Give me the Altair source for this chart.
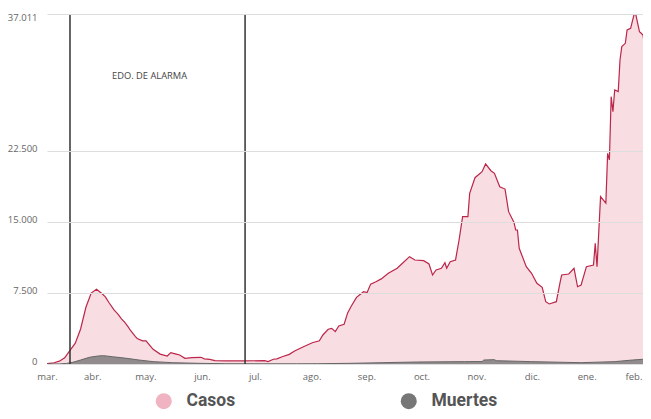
import altair as alt
import pandas as pd

# --- data -------------------------------------------------------------------
casos_fechas = [
    "2020-03-01", "2020-03-05", "2020-03-08", "2020-03-11", "2020-03-14", "2020-03-17",
    "2020-03-20", "2020-03-23", "2020-03-26", "2020-03-29", "2020-04-01", "2020-04-03",
    "2020-04-05", "2020-04-08", "2020-04-10", "2020-04-12", "2020-04-14", "2020-04-16",
    "2020-04-17", "2020-04-20", "2020-04-21", "2020-04-24", "2020-04-26", "2020-04-30",
    "2020-05-04", "2020-05-08", "2020-05-10", "2020-05-13", "2020-05-15", "2020-05-18",
    "2020-05-22", "2020-05-27", "2020-05-29", "2020-06-01", "2020-06-04", "2020-06-10",
    "2020-06-20", "2020-07-02", "2020-07-04", "2020-07-07", "2020-07-09", "2020-07-12",
    "2020-07-16", "2020-07-19", "2020-07-24", "2020-07-29", "2020-08-02", "2020-08-04",
    "2020-08-07", "2020-08-09", "2020-08-11", "2020-08-13", "2020-08-16", "2020-08-18",
    "2020-08-20", "2020-08-23", "2020-08-27", "2020-08-29", "2020-08-31", "2020-09-03",
    "2020-09-06", "2020-09-10", "2020-09-15", "2020-09-18", "2020-09-22", "2020-09-25",
    "2020-09-30", "2020-10-03", "2020-10-05", "2020-10-07", "2020-10-10", "2020-10-12",
    "2020-10-13", "2020-10-15", "2020-10-18", "2020-10-20", "2020-10-22", "2020-10-25",
    "2020-10-26", "2020-10-29", "2020-11-02", "2020-11-04", "2020-11-07", "2020-11-09",
    "2020-11-12", "2020-11-15", "2020-11-17", "2020-11-20", "2020-11-21", "2020-11-22",
    "2020-11-23", "2020-11-27", "2020-11-30", "2020-12-03", "2020-12-06", "2020-12-08",
    "2020-12-10", "2020-12-14", "2020-12-16", "2020-12-17", "2020-12-21", "2020-12-24",
    "2020-12-26", "2020-12-28", "2020-12-31", "2021-01-04", "2021-01-05", "2021-01-06",
    "2021-01-08", "2021-01-11", "2021-01-12", "2021-01-13", "2021-01-14", "2021-01-15",
    "2021-01-16", "2021-01-18", "2021-01-19", "2021-01-20", "2021-01-22", "2021-01-23",
    "2021-01-25", "2021-01-27", "2021-01-28", "2021-01-30", "2021-01-31", "2021-02-01",
    "2021-02-02", "2021-02-03",
]
casos_valores = [
    30, 130, 300, 650, 1450, 2200,
    3700, 6000, 7500, 7900, 7450, 7100,
    6500, 5700, 5300, 4800, 4400, 3900,
    3600, 2900, 2700, 2450, 2450, 1550,
    1050, 850, 1200, 1050, 950, 600,
    670, 710, 550, 480, 350, 320,
    330, 350, 250, 500, 540, 770,
    1020, 1370, 1830, 2250, 2460, 3070,
    3670, 3770, 3420, 4020, 4200, 5400,
    6100, 7050, 7650, 7550, 8450, 8700,
    9000, 9590, 10120, 10650, 11350, 11000,
    10930, 10580, 9410, 9940, 10120, 10710,
    10120, 10820, 11000, 13110, 15580, 15580,
    18050, 19700, 20340, 21150, 20440, 20170,
    18750, 18500, 16110, 15000, 14170, 14170,
    12240, 10290, 9590, 8530, 8110, 6590,
    6350, 6590, 8530, 9410, 9520, 10120,
    8170, 8350, 10290, 10470, 12760, 10290,
    17690, 17000, 22280, 21580, 28270, 26690,
    28980, 28800, 32150, 33560, 33910, 35320,
    35500, 37011, 36900, 35140, 34970, 34790,
    33500, 29000,
]

muertes_fechas = [
    "2020-03-01", "2020-03-08", "2020-03-12", "2020-03-16", "2020-03-20", "2020-03-25",
    "2020-03-30", "2020-04-02", "2020-04-07", "2020-04-15", "2020-04-22", "2020-04-30",
    "2020-05-11", "2020-05-26", "2020-06-10", "2020-07-01", "2020-07-20", "2020-08-01",
    "2020-08-19", "2020-09-07", "2020-09-26", "2020-10-23", "2020-11-02", "2020-11-03",
    "2020-11-09", "2020-11-10", "2020-11-30", "2020-12-28", "2021-01-16", "2021-01-26",
    "2021-02-01", "2021-02-03",
]
muertes_valores = [
    0, 10, 60, 200, 420, 710,
    850, 880, 770, 600, 420, 250,
    140, 70, 30, 20, 20, 30,
    70, 140, 210, 250, 260, 420,
    460, 350, 250, 140, 250, 420,
    500, 500,
]

alarma_fechas = ["2020-03-14", "2020-06-21"]
anotacion_texto = ["EDO. DE ALARMA"]
anotacion_fecha = ["2020-04-28"]
anotacion_valor = [30450]

y_ticks = [0, 7500, 15000, 22500, 37011]
meses = ["ene.", "feb.", "mar.", "abr.", "may.", "jun.", "jul.", "ago.",
         "sep.", "oct.", "nov.", "dic."]
series = ["Casos", "Muertes"]
colores = ["#f0b3c1", "#777777"]

# --- tables -----------------------------------------------------------------
casos_df = pd.DataFrame({"fecha": pd.to_datetime(casos_fechas),
                         "valor": casos_valores, "serie": series[0]})
muertes_df = pd.DataFrame({"fecha": pd.to_datetime(muertes_fechas),
                           "valor": muertes_valores, "serie": series[1]})
alarma_df = pd.DataFrame({"fecha": pd.to_datetime(alarma_fechas)})
anot_df = pd.DataFrame({"fecha": pd.to_datetime(anotacion_fecha),
                        "valor": anotacion_valor, "texto": anotacion_texto})

x_scale = alt.Scale(domain=[alt.DateTime(year=2020, month=3, date=1),
                            alt.DateTime(year=2021, month=2, date=1)])
y_scale = alt.Scale(domain=[0, 37011], nice=False)

meses_js = "[" + ",".join(f"'{m}'" for m in meses) + "]"

x_axis = alt.Axis(
    title=None, grid=False, ticks=False, domain=False,
    tickCount=alt.TimeIntervalStep(interval="month", step=1),
    labelExpr=f"{meses_js}[month(datum.value)]",
    labelFont="Open Sans", labelFontSize=9.5, labelColor="#666666",
    labelPadding=7, labelFlush=False, labelOverlap=False, labelBound=False,
    labelOffset={
        "condition": [
            {"test": "year(datum.value) == 2020 && month(datum.value) == 2", "value": 0},
            {"test": "month(datum.value) == 3 || month(datum.value) == 4", "value": -9.5},
            {"test": "month(datum.value) == 5 || month(datum.value) == 6", "value": -7.8},
            {"test": "month(datum.value) == 7 || month(datum.value) == 8", "value": -6},
            {"test": "month(datum.value) == 9 || month(datum.value) == 10", "value": -4},
            {"test": "month(datum.value) == 1", "value": -9.5},
        ],
        "value": -1.5,
    },
)
y_axis = alt.Axis(
    title=None, values=y_ticks, ticks=False, domain=False,
    labelExpr="replace(format(datum.value, ','), ',', '.')",
    labelFont="Open Sans", labelFontSize=9.5, labelColor="#666666",
    labelPadding=10, labelBaseline="middle",
    labelOffset={"condition": {"test": "datum.value == 37011", "value": 3}, "value": -3},
    gridColor="#dddddd", gridWidth=1.2, zindex=1,
)

color = alt.Color(
    "serie:N",
    scale=alt.Scale(domain=series, range=colores),
    legend=alt.Legend(
        title=None, orient="none", legendX=108, legendY=378, direction="horizontal",
        symbolType="circle", symbolSize=256, symbolOpacity=1, symbolStrokeWidth=0,
        labelFont="Roboto", labelFontSize=17.5, labelFontWeight="bold",
        labelColor="#555555", labelOffset=14, columnPadding=164, padding=0,
    ),
)

x_enc = alt.X("fecha:T", scale=x_scale, axis=x_axis)
y_enc = alt.Y("valor:Q", scale=y_scale, axis=y_axis)

casos_area = alt.Chart(casos_df).mark_area(fillOpacity=0.45, clip=True).encode(
    x=x_enc, y=y_enc, color=color)
casos_line = alt.Chart(casos_df).mark_line(color="#bb2649", strokeWidth=1.2, clip=True).encode(
    x="fecha:T", y="valor:Q")
muertes_area = alt.Chart(muertes_df).mark_area(fillOpacity=0.8, clip=True).encode(
    x="fecha:T", y="valor:Q", color=color)
muertes_line = alt.Chart(muertes_df).mark_line(color="#666666", strokeWidth=1, clip=True).encode(
    x="fecha:T", y="valor:Q")
rules = alt.Chart(alarma_df).mark_rule(color="#333333", strokeWidth=1.5).encode(
    x="fecha:T")
texto = alt.Chart(anot_df).mark_text(font="Open Sans", fontSize=9.3, color="#444444").encode(
    x="fecha:T", y="valor:Q", text="texto:N")

chart = alt.layer(
    casos_area, casos_line, muertes_area, muertes_line, rules, texto
).properties(
    width=596, height=350,
    autosize=alt.AutoSizeParams(type="none"),
    padding={"left": 39, "top": 6, "right": 0, "bottom": 47},
).configure_view(stroke=None)

chart.save("out.html", embed_options={"renderer": "svg", "actions": False})
